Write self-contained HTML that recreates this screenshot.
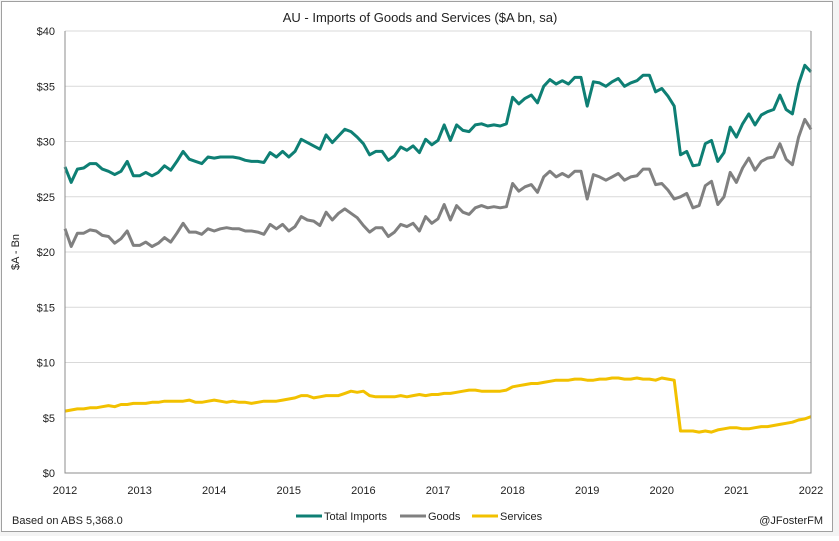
<!DOCTYPE html>
<html><head><meta charset="utf-8"><style>
body{margin:0;background:#fff;}
svg text{font-family:"Liberation Sans",sans-serif;fill:#222;}
</style></head><body>
<svg id="chart" width="839" height="536" xmlns="http://www.w3.org/2000/svg">
<rect x="0" y="0" width="839" height="536" fill="#f4f4f4"/>
<rect x="1.5" y="1.5" width="831" height="530" fill="#fff" stroke="#a0a0a0"/>
<text x="420" y="22" font-size="13" text-anchor="middle">AU - Imports of Goods and Services ($A bn, sa)</text>
<text transform="translate(19,252) rotate(-90)" font-size="11" text-anchor="middle">$A - Bn</text>
<g id="grid"></g><g id="lines"></g><g id="axes"></g>
<g>
<line x1="296" y1="516" x2="322" y2="516" stroke="#0e7f74" stroke-width="3"/>
<text x="324" y="520" font-size="11">Total Imports</text>
<line x1="400" y1="516" x2="426" y2="516" stroke="#808080" stroke-width="3"/>
<text x="428" y="520" font-size="11">Goods</text>
<line x1="472" y1="516" x2="498" y2="516" stroke="#f2c100" stroke-width="3"/>
<text x="500" y="520" font-size="11">Services</text>
</g>
<text x="12" y="524" font-size="11">Based on ABS 5,368.0</text>
<text x="823" y="524" font-size="11" text-anchor="end">@JFosterFM</text>
</svg>
<script>
const yTicks=[0,5,10,15,20,25,30,35,40];
const yearLabels=["2012","2013","2014","2015","2016","2017","2018","2019","2020","2021","2022"];
const totalImports=[27.7,26.3,27.5,27.6,28.0,28.0,27.5,27.3,27.0,27.3,28.2,26.9,
26.9,27.2,26.9,27.2,27.8,27.4,28.2,29.1,28.4,28.2,28.0,28.6,
28.5,28.6,28.6,28.6,28.5,28.3,28.2,28.2,28.1,29.0,28.6,29.1,
28.6,29.1,30.2,29.9,29.6,29.3,30.6,29.9,30.5,31.1,30.9,30.4,
29.8,28.8,29.1,29.1,28.3,28.7,29.5,29.2,29.6,29.0,30.2,29.7,
30.1,31.5,30.1,31.5,31.0,30.9,31.5,31.6,31.4,31.5,31.4,31.6,
34.0,33.4,33.9,34.2,33.5,35.0,35.6,35.2,35.5,35.2,35.8,35.8,
33.2,35.4,35.3,35.0,35.4,35.7,35.0,35.3,35.5,36.0,36.0,34.5,
34.8,34.1,33.2,28.8,29.1,27.8,27.9,29.8,30.1,28.2,29.0,31.3,
30.4,31.6,32.5,31.5,32.4,32.7,32.9,34.2,32.9,32.5,35.2,36.9,
36.3];
const goods=[22.1,20.5,21.7,21.7,22.0,21.9,21.5,21.4,20.8,21.2,21.9,20.6,
20.6,20.9,20.5,20.8,21.3,20.9,21.7,22.6,21.8,21.8,21.6,22.1,
21.9,22.1,22.2,22.1,22.1,21.9,21.9,21.8,21.6,22.5,22.1,22.5,
21.9,22.3,23.2,22.9,22.8,22.4,23.6,22.9,23.5,23.9,23.5,23.1,
22.4,21.8,22.2,22.2,21.4,21.8,22.5,22.3,22.6,21.9,23.2,22.6,
23.0,24.3,22.9,24.2,23.6,23.4,24.0,24.2,24.0,24.1,24.0,24.1,
26.2,25.5,25.9,26.1,25.4,26.8,27.3,26.8,27.1,26.8,27.3,27.3,
24.8,27.0,26.8,26.5,26.8,27.1,26.5,26.8,26.9,27.5,27.5,26.1,
26.2,25.6,24.8,25.0,25.3,24.0,24.2,26.0,26.4,24.3,25.0,27.2,
26.3,27.6,28.5,27.4,28.2,28.5,28.6,29.8,28.4,27.9,30.4,32.0,
31.1];
const services=[5.6,5.7,5.8,5.8,5.9,5.9,6.0,6.1,6.0,6.2,6.2,6.3,
6.3,6.3,6.4,6.4,6.5,6.5,6.5,6.5,6.6,6.4,6.4,6.5,
6.6,6.5,6.4,6.5,6.4,6.4,6.3,6.4,6.5,6.5,6.5,6.6,
6.7,6.8,7.0,7.0,6.8,6.9,7.0,7.0,7.0,7.2,7.4,7.3,
7.4,7.0,6.9,6.9,6.9,6.9,7.0,6.9,7.0,7.1,7.0,7.1,
7.1,7.2,7.2,7.3,7.4,7.5,7.5,7.4,7.4,7.4,7.4,7.5,
7.8,7.9,8.0,8.1,8.1,8.2,8.3,8.4,8.4,8.4,8.5,8.5,
8.4,8.4,8.5,8.5,8.6,8.6,8.5,8.5,8.6,8.5,8.5,8.4,
8.6,8.5,8.4,3.8,3.8,3.8,3.7,3.8,3.7,3.9,4.0,4.1,
4.1,4.0,4.0,4.1,4.2,4.2,4.3,4.4,4.5,4.6,4.8,4.9,
5.1];
const NS="http://www.w3.org/2000/svg";
const X0=65,X1=811,Y0=473,Y1=31;
function xScale(i){return X0+(X1-X0)*i/120;}
function yScale(v){return Y0-(Y0-Y1)*v/40;}
function mk(tag,attrs,parent){const e=document.createElementNS(NS,tag);for(const k in attrs)e.setAttribute(k,attrs[k]);parent.appendChild(e);return e;}
const grid=document.getElementById('grid'),axes=document.getElementById('axes'),lines=document.getElementById('lines');
yTicks.forEach(v=>{
  if(v>0){const g=mk('line',{x1:X0,x2:X1,y1:yScale(v),y2:yScale(v),stroke:'#d9d9d9','stroke-width':1},grid);
  
  }
  const t=mk('text',{x:X0-10,y:yScale(v)+4,'font-size':11,'text-anchor':'end'},axes);
  t.textContent='$'+v;
  
  
});
yearLabels.forEach((y,k)=>{
  const t=mk('text',{x:xScale(k*12),y:494,'font-size':11,'text-anchor':'middle'},axes);
  t.textContent=y;
  
  
});
const ax=mk('path',{d:`M${X0} ${Y1} V${Y0} H${X1} V${Y1}`,fill:'none',stroke:'#8c8c8c','stroke-width':1},axes);


function drawLine(arr,color,name){
  const d=arr.map((v,i)=>(i?'L':'M')+xScale(i).toFixed(1)+' '+yScale(v).toFixed(1)).join(' ');
  const p=mk('path',{d:d,fill:'none',stroke:color,'stroke-width':3,'stroke-linejoin':'round'},lines);
  
  
}
drawLine(services,'#f2c100','services-line');
drawLine(goods,'#808080','goods-line');
drawLine(totalImports,'#0e7f74','total-imports-line');
</script>
</body></html>
